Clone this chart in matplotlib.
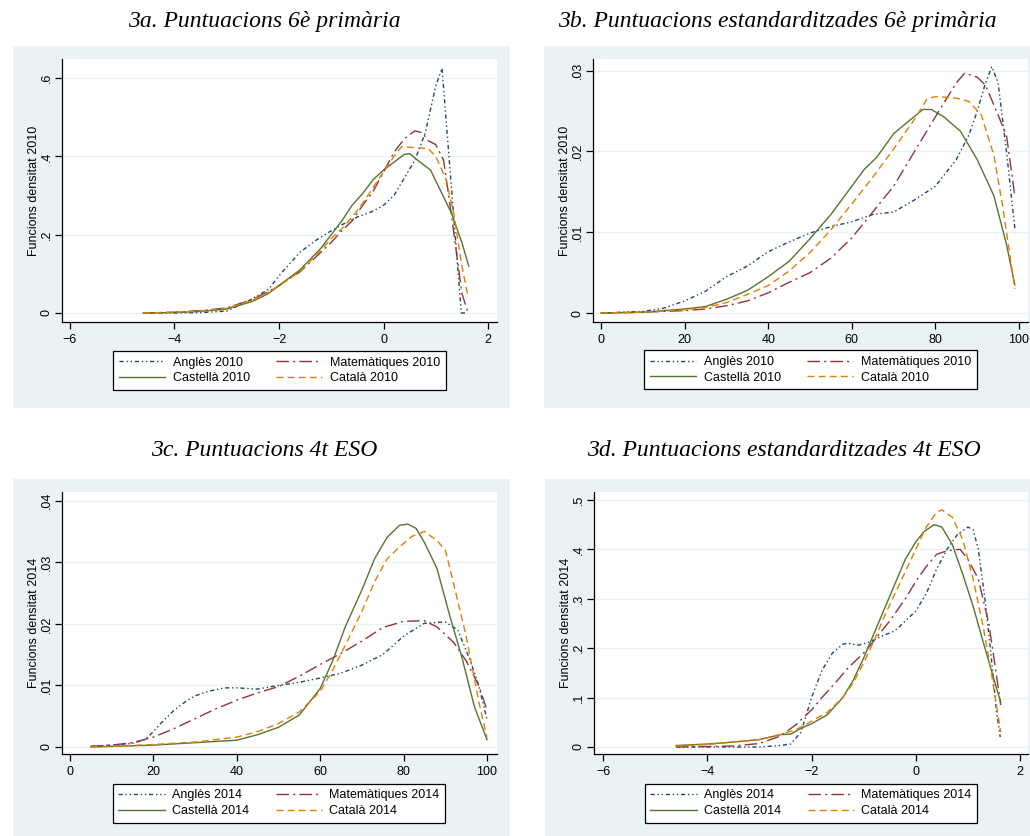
import numpy as np
import matplotlib.pyplot as plt
from matplotlib.patches import Rectangle

plt.rcParams['font.family'] = ['Liberation Sans', 'DejaVu Sans']

# ---- 3a: raw scores 6th grade (2010) ----
a_ang_x = [-4.6, -4, -3.5, -3, -2.6, -2.2, -2, -1.6, -1.3, -1, -0.8, -0.5, -0.2, 0, 0.2, 0.4, 0.6, 0.8, 0.9, 1.0, 1.12, 1.3, 1.49, 1.58]
a_ang_y = [0, 0, 0.001, 0.005, 0.03, 0.06, 0.095, 0.155, 0.185, 0.21, 0.225, 0.245, 0.26, 0.275, 0.3, 0.345, 0.39, 0.46, 0.52, 0.58, 0.625, 0.32, 0.0, 0.0]
a_mat_x = [-4.6, -4, -3.5, -3, -2.5, -2.2, -2, -1.6, -1.2, -1, -0.8, -0.6, -0.4, -0.2, 0, 0.2, 0.4, 0.6, 0.75, 0.85, 1.0, 1.15, 1.3, 1.4, 1.5, 1.62]
a_mat_y = [0, 0.002, 0.006, 0.013, 0.035, 0.055, 0.07, 0.105, 0.155, 0.18, 0.21, 0.235, 0.275, 0.31, 0.36, 0.41, 0.445, 0.465, 0.46, 0.44, 0.43, 0.39, 0.25, 0.15, 0.05, 0.0]
a_cas_x = [-4.6, -4, -3.5, -3, -2.5, -2.2, -2, -1.6, -1.2, -1, -0.8, -0.6, -0.4, -0.2, 0, 0.2, 0.4, 0.5, 0.7, 0.9, 1.1, 1.3, 1.5, 1.63]
a_cas_y = [0, 0.001, 0.004, 0.01, 0.03, 0.05, 0.07, 0.11, 0.165, 0.2, 0.235, 0.275, 0.305, 0.34, 0.365, 0.385, 0.405, 0.407, 0.385, 0.365, 0.31, 0.255, 0.18, 0.12]
a_cat_x = [-4.6, -4, -3.5, -3, -2.5, -2.2, -2, -1.6, -1.2, -1, -0.8, -0.6, -0.4, -0.2, 0, 0.2, 0.35, 0.6, 0.85, 1.0, 1.2, 1.35, 1.5, 1.62]
a_cat_y = [0, 0.002, 0.005, 0.012, 0.033, 0.053, 0.07, 0.105, 0.16, 0.19, 0.215, 0.245, 0.28, 0.32, 0.36, 0.4, 0.425, 0.422, 0.42, 0.4, 0.34, 0.25, 0.12, 0.04]

# ---- 3b: standardised scores 6th grade (2010) ----
b_ang_x = [0, 10, 15, 20, 25, 30, 35, 40, 45, 50, 55, 60, 65, 70, 75, 80, 85, 88, 90, 92, 93.5, 95, 97, 99]
b_ang_y = [0, 0.0002, 0.0006, 0.0015, 0.0027, 0.0045, 0.0058, 0.0076, 0.0088, 0.0099, 0.0107, 0.0113, 0.0122, 0.0125, 0.014, 0.0157, 0.019, 0.022, 0.025, 0.0285, 0.0305, 0.0285, 0.02, 0.0105]
b_mat_x = [0, 10, 20, 25, 30, 35, 40, 45, 50, 55, 60, 65, 70, 75, 80, 85, 87, 90, 92, 95, 97, 99]
b_mat_y = [0, 0.0001, 0.0003, 0.0005, 0.0009, 0.0015, 0.0025, 0.0038, 0.005, 0.0068, 0.0093, 0.0125, 0.0157, 0.02, 0.0243, 0.0285, 0.0297, 0.0292, 0.0282, 0.0245, 0.022, 0.0145]
b_cas_x = [0, 10, 20, 25, 30, 35, 40, 45, 50, 55, 60, 63, 66, 70, 73, 77, 79, 82, 86, 90, 94, 97, 99]
b_cas_y = [0, 0.0001, 0.0005, 0.0008, 0.0017, 0.0028, 0.0045, 0.0064, 0.0092, 0.0122, 0.0157, 0.0178, 0.0193, 0.0222, 0.0235, 0.0252, 0.0252, 0.0243, 0.0225, 0.019, 0.0145, 0.0085, 0.0035]
b_cat_x = [0, 10, 20, 25, 30, 35, 40, 45, 50, 55, 60, 65, 70, 75, 78, 80, 85, 88, 91, 94, 96, 99]
b_cat_y = [0, 0.0001, 0.0004, 0.0007, 0.0013, 0.0023, 0.0034, 0.0052, 0.0075, 0.0103, 0.0135, 0.0168, 0.0203, 0.024, 0.0265, 0.0268, 0.0266, 0.0262, 0.0245, 0.0195, 0.0135, 0.003]

# ---- 3c: raw scores 4t ESO (2014) ----
c_ang_x = [5, 10, 15, 18, 20, 22, 25, 28, 30, 33, 37, 40, 45, 50, 55, 60, 65, 70, 75, 80, 85, 90, 93, 96, 98, 100]
c_ang_y = [0.0001, 0.0003, 0.0006, 0.0012, 0.0025, 0.004, 0.006, 0.0075, 0.0083, 0.009, 0.0096, 0.0096, 0.0094, 0.01, 0.0105, 0.0112, 0.012, 0.0133, 0.015, 0.018, 0.0201, 0.0203, 0.019, 0.014, 0.01, 0.0045]
c_mat_x = [5, 10, 15, 20, 25, 30, 35, 40, 45, 50, 55, 60, 65, 70, 75, 80, 85, 88, 92, 95, 98, 100]
c_mat_y = [0.0001, 0.0003, 0.0007, 0.0016, 0.003, 0.0046, 0.0062, 0.0076, 0.0088, 0.0098, 0.0115, 0.0134, 0.0152, 0.0172, 0.0194, 0.0204, 0.0205, 0.0195, 0.017, 0.014, 0.01, 0.006]
c_cas_x = [5, 10, 20, 30, 35, 40, 45, 50, 55, 60, 63, 66, 70, 73, 76, 79, 81, 83, 85, 88, 91, 94, 97, 100]
c_cas_y = [0, 0.0001, 0.0003, 0.0007, 0.0009, 0.0011, 0.002, 0.0032, 0.0052, 0.0095, 0.014, 0.0195, 0.0255, 0.0305, 0.034, 0.036, 0.0362, 0.0355, 0.0332, 0.029, 0.0215, 0.0145, 0.0065, 0.0012]
c_cat_x = [5, 10, 20, 30, 40, 45, 50, 55, 60, 63, 66, 70, 73, 76, 79, 82, 85, 88, 90, 92, 95, 98, 100]
c_cat_y = [0, 0.0001, 0.0004, 0.0008, 0.0016, 0.0025, 0.0038, 0.0057, 0.009, 0.0125, 0.0165, 0.022, 0.0268, 0.0305, 0.0325, 0.0342, 0.035, 0.0335, 0.032, 0.0265, 0.018, 0.0075, 0.0015]

# ---- 3d: standardised scores 4t ESO (2014) ----
d_ang_x = [-4.6, -4, -3, -2.6, -2.4, -2.2, -2.0, -1.8, -1.6, -1.4, -1.3, -1.1, -0.9, -0.7, -0.4, -0.2, 0, 0.2, 0.4, 0.6, 0.8, 1.0, 1.1, 1.2, 1.35, 1.45, 1.55, 1.62]
d_ang_y = [0, 0, 0, 0.003, 0.006, 0.03, 0.1, 0.155, 0.19, 0.208, 0.21, 0.206, 0.212, 0.222, 0.235, 0.255, 0.275, 0.31, 0.36, 0.4, 0.43, 0.445, 0.44, 0.4, 0.28, 0.18, 0.07, 0.02]
d_mat_x = [-4.6, -4, -3.5, -3, -2.6, -2.3, -2.0, -1.8, -1.5, -1.3, -1.0, -0.8, -0.5, -0.2, 0, 0.2, 0.4, 0.6, 0.85, 1.0, 1.2, 1.4, 1.5, 1.63]
d_mat_y = [0, 0.001, 0.002, 0.007, 0.022, 0.045, 0.075, 0.1, 0.135, 0.16, 0.19, 0.215, 0.255, 0.3, 0.335, 0.365, 0.39, 0.397, 0.4, 0.38, 0.34, 0.25, 0.18, 0.085]
d_cas_x = [-4.6, -4, -3.5, -3, -2.6, -2.4, -2.2, -2, -1.7, -1.4, -1.2, -1, -0.8, -0.6, -0.4, -0.2, 0, 0.15, 0.35, 0.5, 0.7, 0.9, 1.1, 1.3, 1.45, 1.63]
d_cas_y = [0.003, 0.006, 0.01, 0.015, 0.025, 0.026, 0.038, 0.047, 0.065, 0.1, 0.135, 0.18, 0.23, 0.28, 0.33, 0.38, 0.415, 0.435, 0.45, 0.445, 0.41, 0.35, 0.285, 0.21, 0.155, 0.09]
d_cat_x = [-4.6, -4, -3.5, -3, -2.6, -2.3, -2, -1.7, -1.4, -1.2, -1, -0.8, -0.6, -0.4, -0.2, 0, 0.2, 0.4, 0.5, 0.7, 0.9, 1.1, 1.3, 1.45, 1.63]
d_cat_y = [0.002, 0.005, 0.01, 0.015, 0.025, 0.035, 0.052, 0.07, 0.1, 0.13, 0.17, 0.215, 0.265, 0.31, 0.355, 0.4, 0.445, 0.475, 0.48, 0.465, 0.42, 0.34, 0.24, 0.15, 0.03]

titles = ['3a. Puntuacions 6è primària', '3b. Puntuacions estandarditzades 6è primària',
          '3c. Puntuacions 4t ESO', '3d. Puntuacions estandarditzades 4t ESO']
subjects = ['Anglès', 'Matemàtiques', 'Castellà', 'Català']
colors = ['#1a476f', '#90353b', '#55752f', '#e37e00']
styles = [(0, (3, 2, 1, 2, 1, 2)), (0, (9, 3, 1.5, 3)), '-', (0, (5, 3))]

FW, FH = 1030, 836
fig = plt.figure(figsize=(FW / 100, FH / 100), dpi=100)
bg = '#eaf2f3'


def fbox(x0, y0, x1, y1):
    # pixel box (top-left origin) -> figure fraction [l, b, w, h]
    return [x0 / FW, 1 - y1 / FH, (x1 - x0) / FW, (y1 - y0) / FH]


panels = [
    dict(bg=(13, 46, 510, 408), ax=(62, 59, 497, 322), leg=(113, 350, 446, 391), tc=(264, 21),
         data=[(a_ang_x, a_ang_y), (a_mat_x, a_mat_y), (a_cas_x, a_cas_y), (a_cat_x, a_cat_y)],
         xlim=(-6.153, 2.172), ylim=(-0.023, 0.6485), xt=[-6, -4, -2, 0, 2],
         yt=[0, 0.2, 0.4, 0.6], ytl=['0', '.2', '.4', '.6'], year='2010'),
    dict(bg=(544, 46, 1030, 408), ax=(593, 59, 1028, 322), leg=(644, 349, 977, 391), tc=(777, 21),
         data=[(b_ang_x, b_ang_y), (b_mat_x, b_mat_y), (b_cas_x, b_cas_y), (b_cat_x, b_cat_y)],
         xlim=(-1.91, 102.15), ylim=(-0.00111, 0.03145), xt=[0, 20, 40, 60, 80, 100],
         yt=[0, 0.01, 0.02, 0.03], ytl=['0', '.01', '.02', '.03'], year='2010'),
    dict(bg=(13, 479, 510, 836), ax=(62, 492, 497, 754), leg=(113, 783, 445, 823), tc=(264, 450),
         data=[(c_ang_x, c_ang_y), (c_mat_x, c_mat_y), (c_cas_x, c_cas_y), (c_cat_x, c_cat_y)],
         xlim=(-1.92, 102.4), ylim=(-0.00114, 0.04141), xt=[0, 20, 40, 60, 80, 100],
         yt=[0, 0.01, 0.02, 0.03, 0.04], ytl=['0', '.01', '.02', '.03', '.04'], year='2014'),
    dict(bg=(545, 479, 1030, 836), ax=(594, 492, 1028, 754), leg=(645, 783, 977, 823), tc=(784, 450),
         data=[(d_ang_x, d_ang_y), (d_mat_x, d_mat_y), (d_cas_x, d_cas_y), (d_cat_x, d_cat_y)],
         xlim=(-6.173, 2.153), ylim=(-0.0142, 0.516), xt=[-6, -4, -2, 0, 2],
         yt=[0, 0.1, 0.2, 0.3, 0.4, 0.5], ytl=['0', '.1', '.2', '.3', '.4', '.5'], year='2014'),
]

for p, title in zip(panels, titles):
    l, b, w, h = fbox(*p['bg'])
    fig.patches.append(Rectangle((l, b), w, h, transform=fig.transFigure,
                                 facecolor=bg, edgecolor='none', zorder=-5))
    ax = fig.add_axes(fbox(*p['ax']))
    ax.set_zorder(2)
    ax.set_facecolor('white')
    handles = []
    for (xs, ys), c, ls, s in zip(p['data'], colors, styles, subjects):
        ln, = ax.plot(xs, ys, color=c, linestyle=ls, linewidth=1.0, label=f'{s} {p["year"]}')
        handles.append(ln)
    ax.set_xlim(*p['xlim'])
    ax.set_ylim(*p['ylim'])
    ax.set_xticks(p['xt'])
    ax.set_yticks(p['yt'])
    ax.set_yticklabels(p['ytl'], rotation=90, va='center')
    ax.grid(axis='y', color=bg, linewidth=1.0)
    ax.set_axisbelow(True)
    for side in ['top', 'right']:
        ax.spines[side].set_visible(False)
    for side in ['left', 'bottom']:
        ax.spines[side].set_linewidth(0.9)
    ax.tick_params(direction='out', length=5, width=0.9, labelsize=9)
    ax.tick_params(axis='y', pad=1.5)
    ax.set_ylabel(f'Funcions densitat {p["year"]}', fontsize=9, labelpad=1)

    # legend box
    x0, y0, x1, y1 = p['leg']
    order = [0, 2, 1, 3]
    leg = fig.legend([handles[i] for i in order], [handles[i].get_label() for i in order],
                     ncol=2, loc='center', bbox_to_anchor=((x0 + x1) / 2 / FW, 1 - (y0 + y1) / 2 / FH),
                     fontsize=9, handlelength=3.7, columnspacing=2.1, handletextpad=0.6,
                     labelspacing=0.3, borderpad=0.45, borderaxespad=0, fancybox=False, framealpha=1)
    leg.get_frame().set_edgecolor('black')
    leg.get_frame().set_linewidth(0.9)
    leg.set_zorder(3)

    fig.text(p['tc'][0] / FW, 1 - p['tc'][1] / FH, title, ha='center', va='center',
             fontsize=17, style='italic', family=['Liberation Serif', 'DejaVu Serif'])

fig.savefig('out.png', dpi=100, facecolor='white')
